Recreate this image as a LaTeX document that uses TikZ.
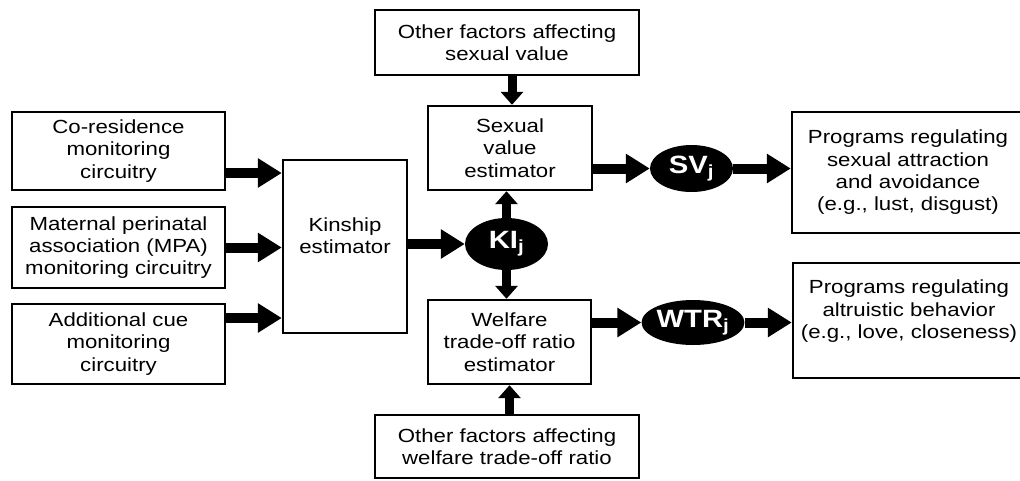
\documentclass[tikz,border=0pt]{standalone}
\usepackage{fontspec}
\setmainfont[FakeStretch=1.17]{Liberation Sans}
\usetikzlibrary{arrows.meta,shapes.geometric}
\begin{document}
\begin{tikzpicture}[x=1pt,y=-1pt,
  box/.style={draw=black, line width=2.4pt, fill=white, align=center, inner sep=0pt,
    font=\fontsize{19}{22.3}\selectfont},
  oval/.style={ellipse, fill=black, inner sep=0pt, text=white,
    font=\fontsize{25}{28}\selectfont\bfseries},
  fat/.style={line width=10pt, -{Triangle[width=28pt,length=24pt]}},
  vfat/.style={line width=9pt, -{Triangle[width=22pt,length=13pt]}}
]
\useasboundingbox (0,0) rectangle (1020,480);

% left boxes
\node[box, minimum width=213pt, minimum height=78pt] (co) at (118.5,151) {Co-residence\\monitoring\\circuitry};
\node[box, minimum width=213pt, minimum height=81pt] (ma) at (118.5,247.5) {Maternal perinatal\\association (MPA)\\monitoring circuitry};
\node[box, minimum width=213pt, minimum height=80pt] (ad) at (118.5,344) {Additional cue\\monitoring\\circuitry};

% kinship
\node[box, minimum width=124pt, minimum height=173pt] (kin) at (345,246.5) {Kinship\\estimator\\\mbox{}};

% middle column
\node[box, minimum width=264pt, minimum height=65pt] (to) at (507,42.5) {Other factors affecting\\sexual value};
\node[box, minimum width=164pt, minimum height=84pt] (sex) at (510,148) {Sexual\\value\\estimator};
\node[oval, minimum width=83pt, minimum height=52pt] (ki) at (506.5,244) {KI\textsubscript{j}};
\node[box, minimum width=163pt, minimum height=84pt] (wel) at (509.5,342) {Welfare\\trade-off ratio\\estimator};
\node[box, minimum width=264pt, minimum height=63pt] (bo) at (507,446.5) {Other factors affecting\\welfare trade-off ratio};

% ellipses right
\node[oval, minimum width=83pt, minimum height=47pt] (sv) at (691.5,168.5) {SV\textsubscript{j}};
\node[oval, minimum width=84pt, minimum height=45pt] (wtr) at (693,322.5) {WTR\textsubscript{j}};

% right boxes
\node[box, minimum width=232pt, minimum height=121pt] (p1) at (908,172.5) {Programs regulating\\sexual attraction\\and avoidance\\(e.g., lust, disgust)};
\node[box, minimum width=232pt, minimum height=115pt] (p2) at (909,320.5) {Programs regulating\\altruistic behavior\\(e.g., love, closeness)\\\mbox{}};

% arrows
\draw[fat] ([yshift=-22pt]co.east) -- ([yshift=-22pt]co.east -| kin.west);
\draw[fat] (ma.east) -- (ma.east -| kin.west);
\draw[fat] ([yshift=26pt]ad.east) -- ([yshift=26pt]ad.east -| kin.west);
\draw[fat] (kin.east |- ki.west) -- (ki.west);
\draw[vfat] (ki.north) -- (ki.north |- sex.south);
\draw[vfat] (ki.south) -- (ki.south |- wel.north);
\draw[vfat] ([xshift=2pt]sex.north |- to.south) -- ([xshift=2pt]sex.north);
\draw[vfat] (wel.south |- bo.north) -- (wel.south);
\draw[fat] (sex.east |- sv.west) -- (sv.west);
\draw[fat] (sv.east) -- (sv.east -| p1.west);
\draw[fat] (wel.east |- wtr.west) -- (wtr.west);
\draw[fat] (wtr.east) -- (wtr.east -| p2.west);
\end{tikzpicture}
\end{document}
